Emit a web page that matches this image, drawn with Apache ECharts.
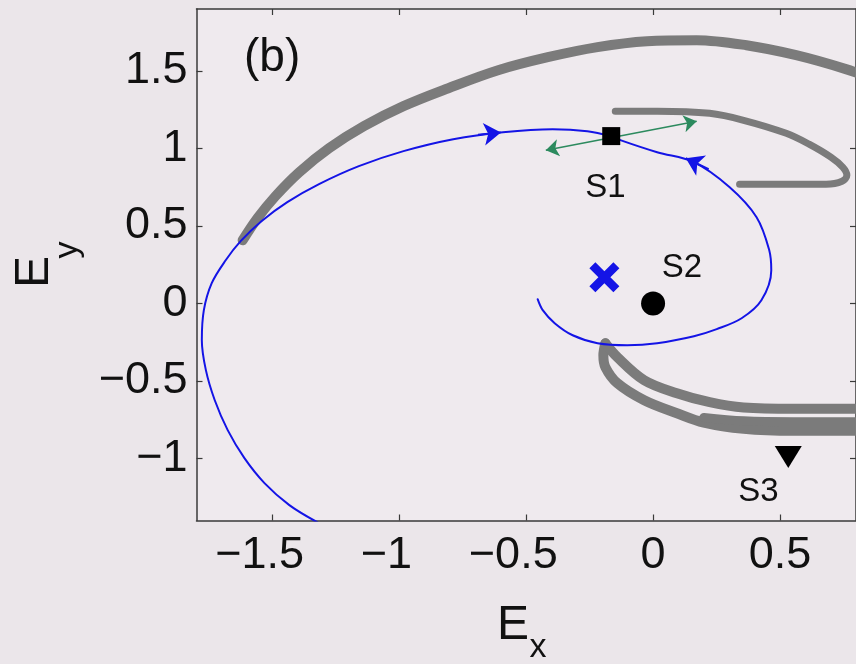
<!DOCTYPE html>
<html>
<head>
<meta charset="utf-8">
<script src="https://cdn.jsdelivr.net/npm/echarts@6/dist/echarts.min.js"></script>
<style>
  html, body { margin: 0; padding: 0; background: #ebe6ea; }
  #chart { width: 856px; height: 664px; }
</style>
</head>
<body>
<div id="chart"></div>
<script>
// Tick positions
const xTicks = [-1.5, -1, -0.5, 0, 0.5];
const yTicks = [-1, -0.5, 0, 0.5, 1, 1.5];

// Stable manifold of S1: outer branch (from below, around the left side)
const manifoldOuter = [
  [-1.324, -1.411], [-1.434, -1.301], [-1.532, -1.159], [-1.611, -0.998],
  [-1.677, -0.817], [-1.728, -0.624], [-1.763, -0.430], [-1.779, -0.237],
  [-1.771, -0.043], [-1.740, 0.131], [-1.685, 0.279], [-1.626, 0.402],
  [-1.544, 0.531], [-1.442, 0.654], [-1.317, 0.770], [-1.160, 0.886],
  [-0.984, 0.983], [-0.788, 1.060], [-0.592, 1.105], [-0.396, 1.125],
  [-0.259, 1.112], [-0.165, 1.080]
];
// Stable manifold of S1: inner branch (spiralling out of the focus)
const manifoldInner = [
  [-0.455, 0.028], [-0.435, -0.043], [-0.388, -0.127], [-0.317, -0.205],
  [-0.219, -0.256], [-0.102, -0.269], [0.016, -0.256], [0.161, -0.211],
  [0.251, -0.165], [0.349, -0.095], [0.427, 0.021], [0.466, 0.215],
  [0.458, 0.344], [0.408, 0.557], [0.302, 0.750], [0.161, 0.912],
  [0.016, 0.976], [-0.129, 1.054], [-0.165, 1.080]
];

// Grey trajectories
const grayArc = [
  [-1.618, 0.408], [-1.560, 0.550], [-1.489, 0.692], [-1.395, 0.847],
  [-1.277, 1.002], [-1.140, 1.144], [-0.984, 1.273], [-0.807, 1.389],
  [-0.611, 1.505], [-0.415, 1.589], [-0.219, 1.654], [-0.024, 1.692],
  [0.172, 1.699], [0.368, 1.666], [0.564, 1.602], [0.760, 1.512], [0.956, 1.402]
];
const grayHook = [
  [-0.149, 1.241], [0.016, 1.241], [0.223, 1.227], [0.357, 1.182],
  [0.525, 1.098], [0.615, 1.028], [0.701, 0.944], [0.748, 0.879],
  [0.764, 0.828], [0.745, 0.789], [0.682, 0.770], [0.525, 0.770], [0.341, 0.770]
];
const grayLowInner = [
  [-0.188, -0.257], [-0.141, -0.346], [-0.035, -0.495], [0.094, -0.579],
  [0.223, -0.637], [0.357, -0.671], [0.553, -0.679], [0.784, -0.679], [0.956, -0.679]
];
const grayLowOuter = [
  [-0.188, -0.257], [-0.196, -0.334], [-0.188, -0.411], [-0.141, -0.514],
  [-0.035, -0.624], [0.094, -0.708], [0.200, -0.768], [0.357, -0.808],
  [0.553, -0.821], [0.784, -0.821], [0.956, -0.821]
];
const grayLowMid = [
  [0.200, -0.735], [0.357, -0.757], [0.553, -0.763], [0.784, -0.763], [0.956, -0.763]
];

// Fixed points and markers
const saddleS1 = [-0.165, 1.080];
const nodeS2 = [0, 0];
const pointS3 = [0.533, -0.990];
const focusCross = [-0.192, 0.170];

// Unstable direction at S1 and flow direction arrows on the manifold
const unstableDir = [[-0.423, 0.989], [0.172, 1.176]];
const flowArrows = [
  [[-0.690, 1.088], [-0.600, 1.104]],
  [[0.219, 0.866], [0.129, 0.937]]
];

// Text annotations
const annotations = [
  { name: 'S1', value: [-0.188, 0.744] },
  { name: 'S2', value: [0.114, 0.228] },
  { name: 'S3', value: [0.415, -1.217] },
  { name: '(b)', value: [-1.502, 1.585] }
];

const FONT = "'Liberation Sans', Arial, Helvetica, sans-serif";
const AXIS_COLOR = '#3a3a3a';
const BLUE = '#1414e6';
const GRAY = '#7b7b7b';

function tickText(v) {
  const s = (v < 0 ? '\u2212' : '') + Math.abs(v);
  return v < 0 ? '{neg|' + s + '}' : '{pos|' + s + '}';
}

const tickRich = {
  neg: { fontSize: 45, fontFamily: FONT, color: '#111', padding: [0, 26, 0, 0] },
  pos: { fontSize: 45, fontFamily: FONT, color: '#111' }
};

function frameAxis(pos, isX, ticks, withLabels) {
  const ax = {
    type: 'value',
    position: pos,
    min: isX ? -1.8 : -1.4,
    max: isX ? 0.8 : 1.9,
    axisLine: { show: true, onZero: false, lineStyle: { color: AXIS_COLOR, width: 1.5 } },
    axisTick: { show: true, inside: true, length: 6, customValues: ticks,
                lineStyle: { color: AXIS_COLOR, width: 1.2 } },
    splitLine: { show: false },
    axisLabel: { show: false }
  };
  if (withLabels) {
    ax.axisLabel = {
      show: true,
      customValues: ticks,
      margin: isX ? 13 : 9,
      formatter: isX ? tickText : (v) => (v < 0 ? '\u2212' : '') + Math.abs(v),
      fontSize: 45,
      fontFamily: FONT,
      color: '#111',
      rich: isX ? tickRich : undefined
    };
  }
  return ax;
}

function curve(data, color, width, z) {
  return {
    type: 'line', data: data, symbol: 'none', showSymbol: false, smooth: 0.35,
    xAxisIndex: 0, yAxisIndex: 0, silent: true, z: z || 2,
    lineStyle: { color: color, width: width, cap: 'round', join: 'round' }
  };
}

function marker(symbol, size, color, point, rotate) {
  return {
    type: 'scatter', silent: true, z: 5, symbol: symbol, symbolSize: size,
    symbolRotate: rotate || 0,
    itemStyle: { color: color, opacity: 1 }, data: [point]
  };
}

const chart = echarts.init(document.getElementById('chart'), null, { renderer: 'canvas' });

chart.setOption({
  animation: false,
  backgroundColor: '#ebe6ea',
  grid: { left: 196.5, top: 9, width: 663.5, height: 511.5, show: true,
          backgroundColor: '#efeaee', borderWidth: 0 },
  xAxis: [frameAxis('bottom', true, xTicks, true), frameAxis('top', true, xTicks, false)],
  yAxis: [frameAxis('left', false, yTicks, true), frameAxis('right', false, yTicks, false)],
  series: [
    curve(grayArc, GRAY, 10),
    curve(grayHook, GRAY, 7),
    curve(grayLowOuter, GRAY, 10),
    curve(grayLowMid, GRAY, 9),
    curve(grayLowInner, GRAY, 10),
    curve(manifoldOuter, BLUE, 2, 3),
    curve(manifoldInner, BLUE, 2, 3),
    {
      type: 'lines', coordinateSystem: 'cartesian2d', silent: true, z: 4,
      symbol: ['arrow', 'arrow'], symbolSize: 13,
      lineStyle: { color: '#2c8a5e', width: 1.5, opacity: 1 },
      data: [{ coords: unstableDir }]
    },
    {
      type: 'lines', coordinateSystem: 'cartesian2d', silent: true, z: 4,
      symbol: ['none', 'arrow'], symbolSize: 17,
      lineStyle: { color: BLUE, width: 2, opacity: 1 },
      data: flowArrows.map(c => ({ coords: c }))
    },
    marker('rect', 18, '#000', saddleS1),
    marker('circle', 24, '#000', nodeS2),
    marker('triangle', [27, 22], '#000', pointS3, 180),
    marker('path://M4,0 L10,6 L16,0 L20,4 L14,10 L20,16 L16,20 L10,14 L4,20 L0,16 L6,10 L0,4 Z',
           30, BLUE, focusCross),
    {
      type: 'scatter', silent: true, z: 6, symbol: 'circle', symbolSize: 1,
      itemStyle: { color: 'rgba(0,0,0,0)', opacity: 1 },
      label: { show: true, position: 'inside', formatter: '{b}', fontFamily: FONT,
               fontSize: 33, color: '#111', opacity: 1 },
      data: annotations.map(a => a.name === '(b)'
        ? { name: a.name, value: a.value, label: { fontSize: 46 } }
        : { name: a.name, value: a.value })
    }
  ],
  graphic: [
    { type: 'text', x: 513, y: 626, silent: true,
      style: { text: 'E', font: '48px ' + FONT, fill: '#111', align: 'center', verticalAlign: 'middle' } },
    { type: 'text', x: 538, y: 648, silent: true,
      style: { text: 'x', font: '34px ' + FONT, fill: '#111', align: 'center', verticalAlign: 'middle' } },
    { type: 'text', x: 35, y: 272, rotation: Math.PI / 2, silent: true,
      style: { text: 'E', font: '48px ' + FONT, fill: '#111', align: 'center', verticalAlign: 'middle' } },
    { type: 'text', x: 68, y: 250, rotation: Math.PI / 2, silent: true,
      style: { text: 'y', font: '34px ' + FONT, fill: '#111', align: 'center', verticalAlign: 'middle' } }
  ]
});
</script>
</body>
</html>
